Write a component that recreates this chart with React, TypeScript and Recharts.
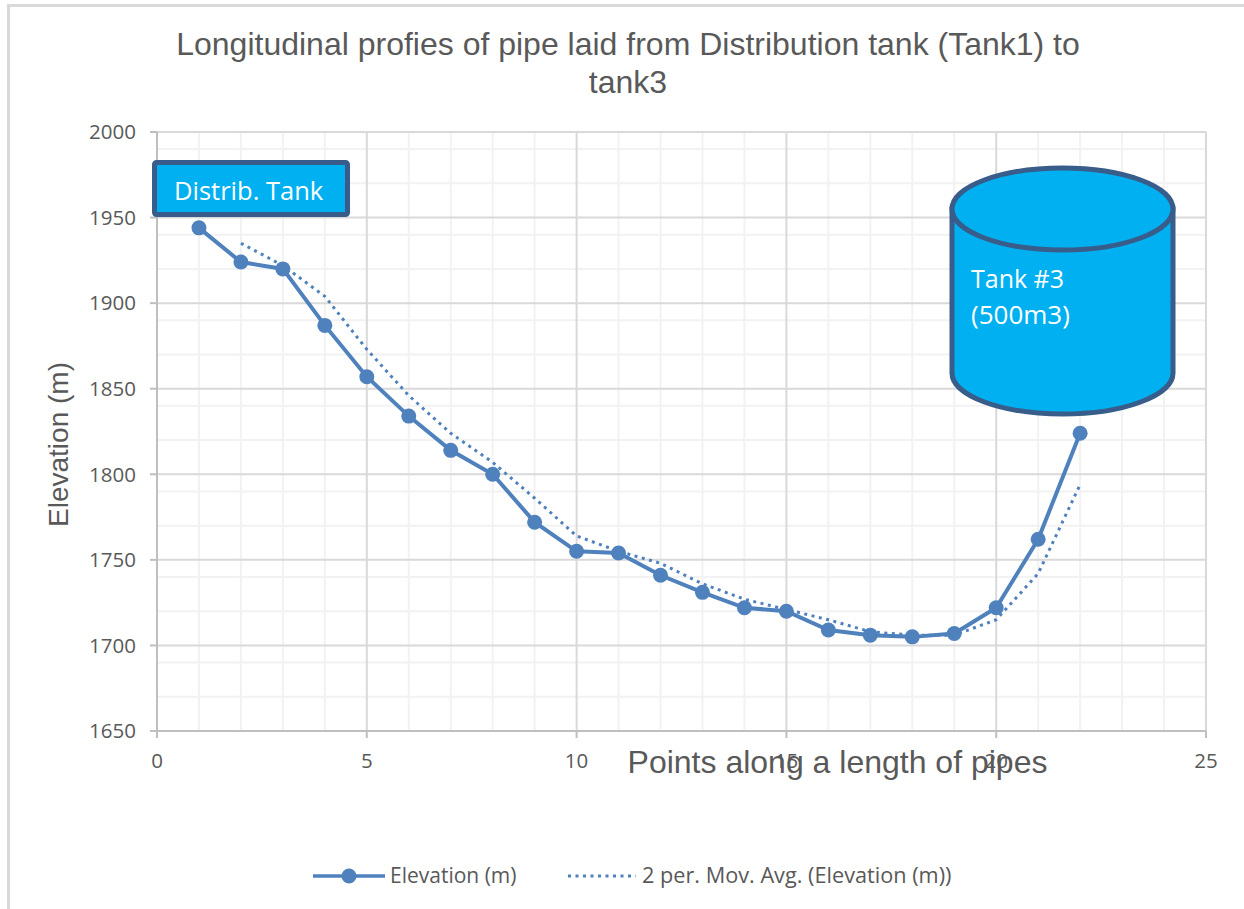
import { LineChart, Line, XAxis, YAxis, CartesianGrid, Legend, Label } from 'recharts';

const points = [1, 2, 3, 4, 5, 6, 7, 8, 9, 10, 11, 12, 13, 14, 15, 16, 17, 18, 19, 20, 21, 22];
const elevation = [1944, 1924, 1920, 1887, 1857, 1834, 1814, 1800, 1772, 1755, 1754, 1741, 1731, 1722, 1720, 1709, 1706, 1705, 1707, 1722, 1762, 1824];
const movingAvg = [null, 1935, 1922, 1904, 1873, 1846, 1824, 1807, 1786, 1764, 1755, 1748, 1736, 1727, 1721, 1715, 1708, 1706, 1706, 1715, 1742, 1794];

const xTicks = [0, 5, 10, 15, 20, 25];
const yTicks = [1650, 1700, 1750, 1800, 1850, 1900, 1950, 2000];
const xMinor = [1, 2, 3, 4, 6, 7, 8, 9, 11, 12, 13, 14, 16, 17, 18, 19, 21, 22, 23, 24];
const yMinor = [1660, 1670, 1680, 1690, 1710, 1720, 1730, 1740, 1760, 1770, 1780, 1790, 1810, 1820, 1830, 1840, 1860, 1870, 1880, 1890, 1910, 1920, 1930, 1940, 1960, 1970, 1980, 1990];

const data = points.map((p, i) => ({ point: p, elevation: elevation[i], avg: movingAvg[i] }));

const BLUE = '#4f81bd';
const TANK = '#00b0f0';
const EDGE = '#385d8a';
const GREY = '#595959';
const font = '"Open Sans", sans-serif';
const titleFont = '"Liberation Sans", sans-serif';

function ChartLegend() {
  return (
    <svg width={700} height={30}>
      <line x1={23} x2={95} y1={15} y2={15} stroke={BLUE} strokeWidth={3.5} />
      <circle cx={59} cy={15} r={7.5} fill={BLUE} />
      <text x={100} y={22} fontSize={21} fill={GREY} fontFamily={font}>Elevation (m)</text>
      <line x1={278} x2={346} y1={15} y2={15} stroke={BLUE} strokeWidth={3} strokeDasharray="3 4.5" />
      <text x={352} y={22} fontSize={21.7} fill={GREY} fontFamily={font}>2 per. Mov. Avg. (Elevation (m))</text>
    </svg>
  );
}

export default function App() {
  return (
    <div style={{ position: 'absolute', left: 0, top: 0, width: 1244, height: 909, background: '#fff', overflow: 'hidden' }}>
      <LineChart width={1244} height={909} data={data} margin={{ top: 132, right: 38, left: 0, bottom: 84 }}>
        <CartesianGrid stroke="#f2f2f2" strokeWidth={2} horizontalValues={yMinor} verticalValues={xMinor} />
        <CartesianGrid stroke="#d9d9d9" strokeWidth={2} horizontalValues={yTicks} verticalValues={xTicks} />
        <XAxis
          dataKey="point"
          type="number"
          domain={[0, 25]}
          ticks={xTicks}
          height={60}
          stroke="#bfbfbf"
          strokeWidth={2}
          tickSize={7}
          tickMargin={15}
          tick={{ fill: GREY, fontSize: 20.5, fontFamily: font }}
        >
          <Label value="Points along a length of pipes" position="center" dx={156} dy={1} fontSize={32} fill={GREY} fontFamily={titleFont} />
        </XAxis>
        <YAxis
          type="number"
          domain={[1650, 2000]}
          ticks={yTicks}
          width={157}
          stroke="#bfbfbf"
          strokeWidth={2}
          tickSize={7}
          tickMargin={14}
          tick={{ fill: GREY, fontSize: 20.5, fontFamily: font }}
        >
          <Label value="Elevation (m)" angle={-90} position="center" dx={-20} dy={13} fontSize={28} fill={GREY} fontFamily={titleFont} />
        </YAxis>
        <Line dataKey="avg" name="2 per. Mov. Avg. (Elevation (m))" stroke={BLUE} strokeWidth={3} strokeDasharray="3 4.5" dot={false} isAnimationActive={false} connectNulls={false} />
        <Line dataKey="elevation" name="Elevation (m)" stroke={BLUE} strokeWidth={4} dot={{ r: 7.5, fill: BLUE, stroke: BLUE, strokeWidth: 0 }} isAnimationActive={false} />
        <Legend content={() => <ChartLegend />} wrapperStyle={{ left: 290, bottom: 14, width: 700 }} />
      </LineChart>

      <svg width={1244} height={909} style={{ position: 'absolute', left: 0, top: 0, pointerEvents: 'none' }}>
        <path d="M8.5 909 L8.5 5.5 L1244 5.5" fill="none" stroke="#d9d9d9" strokeWidth={3} />
        <text x={628} y={55} textAnchor="middle" fontSize={32} fill={GREY} fontFamily={titleFont}>Longitudinal profies of pipe laid from Distribution tank (Tank1) to</text>
        <text x={628} y={93} textAnchor="middle" fontSize={32} fill={GREY} fontFamily={titleFont}>tank3</text>

        <rect x={154.5} y={162.5} width={193} height={52} rx={2} fill={TANK} stroke={EDGE} strokeWidth={5} />
        <text x={174} y={200} fontSize={25.5} fill="#fff" fontFamily={font}>Distrib. Tank</text>

        <path d="M952 209 L952 373 A110.5 41 0 0 0 1173 373 L1173 209 Z" fill={TANK} stroke={EDGE} strokeWidth={5} />
        <ellipse cx={1062.5} cy={209} rx={110.5} ry={41} fill={TANK} stroke={EDGE} strokeWidth={5} />
        <text x={971} y={288} fontSize={25} fill="#fff" fontFamily={font}>Tank #3</text>
        <text x={971} y={324} fontSize={26} fill="#fff" fontFamily={font}>(500m3)</text>
      </svg>
    </div>
  );
}
